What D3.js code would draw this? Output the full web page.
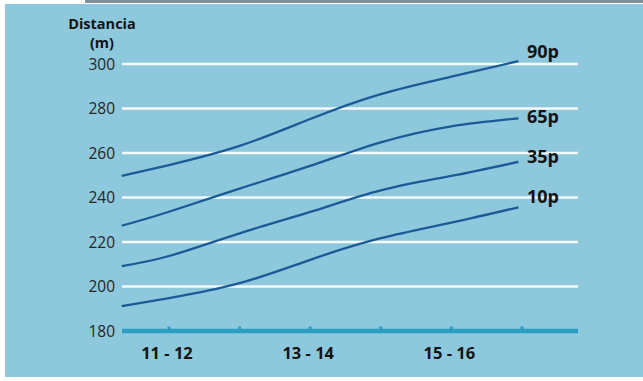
<!DOCTYPE html>
<html>
<head>
<meta charset="utf-8">
<script src="https://cdn.jsdelivr.net/npm/d3@7"></script>
<style>
  html, body { margin: 0; padding: 0; background: #ffffff; }
  svg { display: block; }
</style>
</head>
<body>
<div id="chart"></div>
<script>
// ---------------------------------------------------------
// DATA
// ---------------------------------------------------------
const xPoints = [0.33, 1, 2, 3, 4, 5, 5.95];   // position along the age axis (tick units)
const series = ["90p", "65p", "35p", "10p"];
const p90 = [249.7, 254.6, 263.2, 275.3, 286.5, 294.3, 301.3];
const p65 = [227.3, 233.6, 244.0, 254.2, 264.8, 272.0, 275.6];
const p35 = [209.2, 213.7, 223.9, 233.5, 243.2, 249.7, 256.0];
const p10 = [191.2, 194.8, 201.5, 212.0, 221.7, 228.7, 235.6];
const yTicks = [180, 200, 220, 240, 260, 280, 300];
const xTicks = [1, 2, 3, 4, 5, 6];
const xTickLabels = { 1: "11 - 12", 3: "13 - 14", 5: "15 - 16" };

const values = { "90p": p90, "65p": p65, "35p": p35, "10p": p10 };

// ---------------------------------------------------------
// LAYOUT
// ---------------------------------------------------------
const width = 643, height = 381;
const bg = "#8dc8dc";
const lineColor = "#1b5a97";
const baseColor = "#2d9dc4";
const gridLeft = 122, gridRight = 578;
const labelDy = { "90p": -3, "65p": 5, "35p": 1, "10p": -4 };
const font = "'Open Sans', sans-serif";

const svg = d3.select("#chart").append("svg")
  .attr("width", width)
  .attr("height", height);

// panel
svg.append("rect")
  .attr("x", 5).attr("y", 4)
  .attr("width", width - 5).attr("height", 373)
  .attr("fill", bg);

// thin grey strip on the top edge
svg.append("rect")
  .attr("x", 85).attr("y", 0)
  .attr("width", width - 85).attr("height", 3)
  .attr("fill", "#7f909b");

const x = d3.scaleLinear().domain([0, 6]).range([98.4, 522]);
const y = d3.scaleLinear().domain([180, 300]).range([331, 64]);

// gridlines
svg.selectAll("line.grid")
  .data(yTicks.filter(d => d > 180))
  .enter().append("line")
  .attr("class", "grid")
  .attr("x1", gridLeft).attr("x2", gridRight)
  .attr("y1", d => y(d)).attr("y2", d => y(d))
  .attr("stroke", "#f4f9fb")
  .attr("stroke-width", 2.5);

// baseline + small ticks
svg.append("line")
  .attr("x1", gridLeft).attr("x2", gridRight)
  .attr("y1", y(180)).attr("y2", y(180))
  .attr("stroke", baseColor)
  .attr("stroke-width", 4.5);

svg.selectAll("rect.tick")
  .data(xTicks)
  .enter().append("rect")
  .attr("class", "tick")
  .attr("x", d => x(d) - 1.5)
  .attr("y", y(180) - 4.5)
  .attr("width", 3).attr("height", 3)
  .attr("fill", baseColor);

// y labels
svg.selectAll("text.ylab")
  .data(yTicks)
  .enter().append("text")
  .attr("class", "ylab")
  .attr("x", 115)
  .attr("y", d => y(d))
  .attr("dy", "0.37em")
  .attr("text-anchor", "end")
  .style("font-family", font)
  .style("font-size", "15.5px")
  .style("fill", "#262626")
  .text(d => d);

// axis title (two separate lines)
const titleLines = [["Distancia", 28.5], ["(m)", 48]];
svg.selectAll("text.title")
  .data(titleLines)
  .enter().append("text")
  .attr("class", "title")
  .attr("x", 102)
  .attr("y", d => d[1])
  .attr("text-anchor", "middle")
  .style("font-family", font)
  .style("font-weight", "700")
  .style("font-size", "14.5px")
  .style("fill", "#141414")
  .text(d => d[0]);

// x labels
svg.selectAll("text.xlab")
  .data(xTicks.filter(d => xTickLabels[d]))
  .enter().append("text")
  .attr("class", "xlab")
  .attr("x", d => x(d) - 2)
  .attr("y", 359)
  .attr("text-anchor", "middle")
  .style("font-family", font)
  .style("font-weight", "700")
  .style("font-size", "16.5px")
  .style("fill", "#141414")
  .text(d => xTickLabels[d]);

// lines
const line = d3.line()
  .x(d => x(d[0]))
  .y(d => y(d[1]))
  .curve(d3.curveNatural);

series.forEach(s => {
  const pts = xPoints.map((xv, i) => [xv, values[s][i]]);
  svg.append("path")
    .datum(pts)
    .attr("d", line)
    .attr("fill", "none")
    .attr("stroke", lineColor)
    .attr("stroke-width", 2.3);

  svg.append("text")
    .attr("x", 527)
    .attr("y", y(values[s][values[s].length - 1]) + labelDy[s])
    .style("font-family", font)
    .style("font-weight", "700")
    .style("font-size", "18px")
    .style("fill", "#141414")
    .text(s);
});
</script>
</body>
</html>
